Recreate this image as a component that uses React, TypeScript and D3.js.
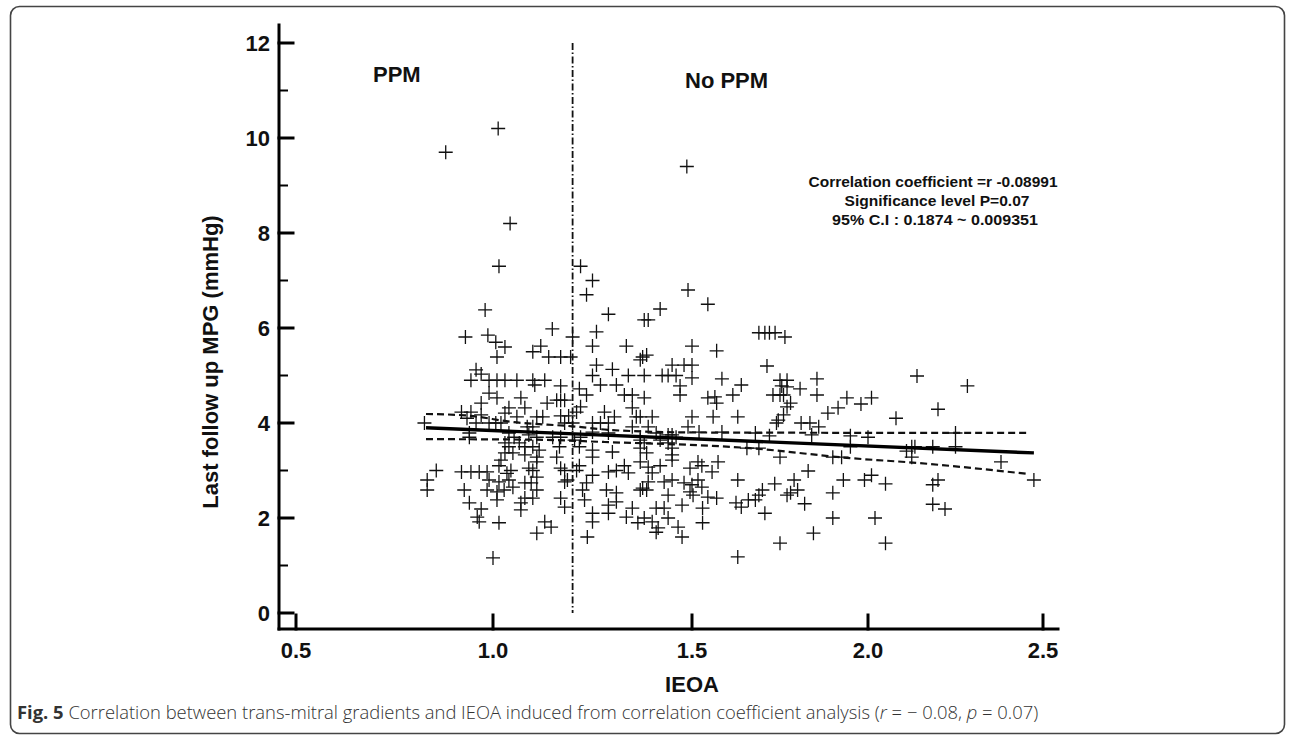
import React from 'react';
import * as d3 from 'd3';

// ---------- data ----------
const xTickValues = [0.5, 1.0, 1.5, 2.0, 2.5];
const xTickLabels = ['0.5', '1.0', '1.5', '2.0', '2.5'];
const yMajorTicks = [0, 2, 4, 6, 8, 10, 12];
const yMinorTicks = [1, 3, 5, 7, 9, 11];
const ppmCutoff = 1.2;

const regressionLine: [number, number][] = [[0.83, 3.9], [2.474, 3.37]];
const ciUpper: [number, number][] = [[0.83, 4.19], [0.93, 4.16], [1.05, 4.02], [1.2, 3.93], [1.3, 3.85], [1.52, 3.8], [2.455, 3.79]];
const ciLower: [number, number][] = [[0.83, 3.66], [1.1, 3.65], [1.28, 3.6], [1.665, 3.47], [1.95, 3.26], [2.14, 3.16], [2.455, 2.93]];

const statsLines = [
  'Correlation coefficient =r -0.08991',
  'Significance level P=0.07',
  '95% C.I :  0.1874 ~  0.009351',
];

// IEOA, MPG pairs
const points: [number, number][] = [
  [0.88, 9.7], [1.013, 10.2], [1.043, 8.2], [1.015, 7.3], [1.22, 7.3], [1.487, 9.4], [1.25, 7.0], [1.235, 6.7], [1.49, 6.8],
  // PPM zone and around the cutoff
  [0.98, 6.38], [1.149, 5.98], [1.2, 5.81], [0.93, 5.81], [0.987, 5.85], [1.007, 5.7], [1.03, 5.6], [1.01, 5.39], [1.10, 5.5], [1.12, 5.62], [1.14, 5.39], [1.17, 5.39], [1.195, 5.39],
  [0.957, 5.12], [0.97, 5.03],
  [0.944, 4.9], [0.99, 4.9], [1.01, 4.9], [1.03, 4.9], [1.06, 4.9], [1.10, 4.9], [1.13, 4.9], [1.105, 4.8], [1.17, 4.78], [1.217, 4.72],
  [0.99, 4.63], [1.01, 4.53], [1.07, 4.53], [0.97, 4.42], [1.04, 4.32], [1.08, 4.32], [1.136, 4.42], [1.16, 4.48], [1.17, 4.48], [1.18, 4.48],
  [0.92, 4.23], [0.944, 4.23], [0.97, 4.17], [1.03, 4.21], [1.06, 4.13], [1.11, 4.13], [1.125, 4.13], [1.17, 4.15], [1.19, 4.15],
  [0.826, 4.0], [0.934, 4.1], [0.957, 4.0], [0.99, 4.0], [1.007, 4.0], [1.02, 4.0], [1.086, 3.92], [1.10, 3.92], [1.18, 4.0], [1.2, 4.0],
  [0.94, 3.79], [0.94, 3.7], [1.04, 3.79], [1.053, 3.7], [1.09, 3.75], [1.11, 3.7], [1.15, 3.7], [1.17, 3.7],
  [1.03, 3.58], [1.04, 3.5], [1.066, 3.58], [1.08, 3.5], [1.1, 3.5], [1.116, 3.43], [1.167, 3.5],
  [1.03, 3.37], [1.02, 3.22], [1.05, 3.37], [1.11, 3.28], [1.11, 3.18], [1.08, 3.33], [1.16, 3.28],
  [1.015, 3.1], [1.045, 3.0], [1.035, 2.94], [1.09, 3.05], [1.10, 3.0], [1.11, 2.86], [1.17, 3.05], [1.18, 3.0],
  [0.856, 3.0], [0.92, 2.97], [0.944, 2.97], [0.965, 2.97], [0.985, 2.97],
  [0.833, 2.8], [0.833, 2.59], [0.99, 2.8], [1.015, 2.76], [1.04, 2.8], [1.05, 2.65], [1.08, 2.74], [1.096, 2.74], [1.11, 2.59], [1.18, 2.76], [1.187, 2.8],
  [0.927, 2.59], [0.985, 2.59], [1.01, 2.55], [1.028, 2.59], [1.01, 2.38], [1.08, 2.42], [1.10, 2.42], [1.17, 2.42], [1.18, 2.23],
  [0.94, 2.32], [0.97, 2.19], [1.07, 2.32], [1.07, 2.17], [0.96, 2.02], [0.965, 1.92], [1.015, 1.9], [1.13, 1.92], [1.146, 1.81], [1.11, 1.68], [1.0, 1.16],
  // No PPM zone, 1.2 - 1.66
  [1.545, 6.5], [1.42, 6.4], [1.38, 6.17], [1.39, 6.17], [1.29, 6.29], [1.26, 5.92], [1.25, 5.62], [1.335, 5.62], [1.5, 5.62], [1.57, 5.52],
  [1.376, 5.39], [1.37, 5.33], [1.386, 5.43], [1.26, 5.22], [1.30, 5.13], [1.25, 5.0],
  [1.34, 5.0], [1.38, 5.0], [1.425, 5.0], [1.44, 5.0], [1.45, 5.22], [1.48, 5.22], [1.5, 5.22], [1.46, 5.0], [1.47, 4.78], [1.5, 4.95], [1.585, 4.93], [1.64, 4.8], [1.616, 4.59],
  [1.27, 4.8], [1.31, 4.8], [1.235, 4.59], [1.33, 4.59], [1.35, 4.59], [1.38, 4.53], [1.47, 4.59], [1.545, 4.53], [1.565, 4.55], [1.57, 4.42],
  [1.22, 4.34], [1.21, 4.23], [1.28, 4.23], [1.305, 4.13], [1.35, 4.32], [1.36, 4.13], [1.37, 4.13], [1.4, 4.13], [1.5, 4.13], [1.56, 4.13], [1.63, 4.13],
  [1.25, 4.0], [1.27, 4.0], [1.29, 4.0], [1.39, 3.92], [1.35, 3.92], [1.49, 3.92], [1.52, 3.81], [1.585, 3.81],
  [1.22, 3.7], [1.205, 3.64], [1.29, 3.79], [1.25, 3.81], [1.37, 3.7], [1.41, 3.79], [1.44, 3.75], [1.45, 3.75], [1.46, 3.7], [1.37, 3.64], [1.38, 3.58], [1.42, 3.64], [1.44, 3.58], [1.45, 3.47], [1.656, 3.47],
  [1.217, 3.5], [1.25, 3.43], [1.3, 3.39], [1.37, 3.47], [1.386, 3.37], [1.45, 3.33], [1.25, 3.28],
  [1.217, 3.1], [1.21, 3.0], [1.33, 3.1], [1.34, 2.95], [1.31, 3.0], [1.29, 2.97], [1.37, 3.18], [1.39, 3.07], [1.42, 3.1], [1.40, 2.95], [1.45, 3.22],
  [1.495, 3.05], [1.517, 3.18], [1.528, 3.1], [1.557, 2.97], [1.574, 3.18],
  [1.25, 2.9], [1.235, 2.74], [1.225, 2.59], [1.23, 2.38], [1.285, 2.59], [1.31, 2.53], [1.37, 2.59], [1.376, 2.63], [1.386, 2.59], [1.39, 2.76],
  [1.43, 2.76], [1.45, 2.8], [1.44, 2.48], [1.48, 2.74], [1.5, 2.7], [1.517, 2.8], [1.528, 2.65], [1.495, 2.55], [1.503, 2.48], [1.545, 2.44], [1.57, 2.42],
  [1.63, 2.8], [1.625, 2.32], [1.64, 2.23], [1.66, 2.38], [1.31, 2.34], [1.29, 2.27], [1.35, 2.21], [1.41, 2.21], [1.43, 2.21], [1.475, 2.27], [1.53, 2.21],
  [1.25, 2.1], [1.25, 1.92], [1.237, 1.6], [1.29, 2.1], [1.335, 2.02], [1.364, 1.9], [1.38, 2.0], [1.4, 1.92], [1.415, 1.79], [1.41, 1.7], [1.44, 2.0], [1.465, 1.81], [1.475, 1.6], [1.53, 1.9], [1.63, 1.18],
  // 1.66 - 2.1
  [1.69, 5.9], [1.707, 5.9], [1.72, 5.9], [1.736, 5.9], [1.764, 5.81], [1.713, 5.2], [1.75, 4.9], [1.77, 4.9], [1.755, 4.78], [1.77, 4.76], [1.855, 4.93], [1.855, 4.59], [1.807, 4.72],
  [1.73, 4.59], [1.75, 4.59], [1.76, 4.59], [1.78, 4.42], [1.77, 4.34], [1.76, 4.17], [1.745, 4.06], [1.74, 4.0], [1.81, 4.0], [1.835, 4.0], [1.86, 3.92],
  [1.886, 4.21], [1.915, 4.32], [1.94, 4.53], [1.98, 4.4], [2.01, 4.53], [2.08, 4.1],
  [1.68, 3.79], [1.72, 3.73], [1.84, 3.75], [1.95, 3.73], [2.0, 3.7], [1.95, 3.5], [1.69, 3.47], [1.75, 3.28], [1.9, 3.28], [1.925, 3.28],
  [1.83, 2.99], [1.93, 2.8], [1.99, 2.8], [2.01, 2.9], [2.05, 2.72], [1.79, 2.8], [1.8, 2.59], [1.78, 2.53], [1.77, 2.48], [1.735, 2.72],
  [1.7, 2.59], [1.69, 2.48], [1.68, 2.38], [1.707, 2.1], [1.82, 2.3], [1.9, 2.53], [1.9, 2.0], [2.02, 2.0], [1.845, 1.68], [1.75, 1.47], [2.05, 1.47],
  // > 2.1
  [2.14, 4.99], [2.284, 4.78], [2.2, 4.29], [2.25, 3.79], [2.25, 3.5], [2.185, 3.5], [2.134, 3.5], [2.125, 3.5], [2.11, 3.41], [2.125, 3.28], [2.38, 3.18], [2.474, 2.8], [2.185, 2.7], [2.2, 2.8], [2.185, 2.29], [2.22, 2.19],
];

// ---------- layout ----------
const W = 1292;
const H = 738;
const axisX = 279;
const axisY = 629;
const axisRight = 1058;
const axisTop = 25;

const x = d3.scaleLinear().domain(xTickValues).range([296, 493, 692, 868, 1043]);
const y = d3.scaleLinear().domain([0, 12]).range([613, 43]);

const sansBold = "'Liberation Sans', Arial, Helvetica, sans-serif";

export default function App() {
  const line = d3.line<[number, number]>().x(d => x(d[0])).y(d => y(d[1]));
  const curve = d3.line<[number, number]>().x(d => x(d[0])).y(d => y(d[1])).curve(d3.curveMonotoneX);
  const plus = 'M-7,0H7M0,-7V7';

  return (
    <svg width={W} height={H} viewBox={`0 0 ${W} ${H}`} style={{ position: 'absolute', left: 0, top: 0, background: '#fff' }}>
      <rect x={0} y={0} width={W} height={H} fill="#fff" />
      {/* frame */}
      <rect x={10.5} y={6.5} width={1274} height={727} rx={9} ry={9} fill="none" stroke="#444" strokeWidth={1.6} />

      {/* markers */}
      <g stroke="#111" strokeWidth={1.3} fill="none">
        {points.map((p, i) => (
          <path key={i} d={plus} transform={`translate(${x(p[0])},${y(p[1])})`} />
        ))}
      </g>

      {/* cutoff line */}
      <line x1={x(ppmCutoff)} x2={x(ppmCutoff)} y1={y(12)} y2={y(0)} stroke="#111" strokeWidth={1.8} strokeDasharray="7,2.5,1.5,2.5" />

      {/* regression & CI */}
      <path d={curve(ciUpper) || ''} fill="none" stroke="#111" strokeWidth={2.2} strokeDasharray="7,4" />
      <path d={curve(ciLower) || ''} fill="none" stroke="#111" strokeWidth={2.2} strokeDasharray="7,4" />
      <path d={line(regressionLine) || ''} fill="none" stroke="#000" strokeWidth={3.4} />

      {/* axes */}
      <g stroke="#000" strokeLinecap="square">
        <line x1={axisX} x2={axisX} y1={axisTop} y2={axisY} strokeWidth={3} />
        <line x1={axisX} x2={axisRight} y1={axisY} y2={axisY} strokeWidth={3} />
        {yMajorTicks.map(t => (
          <line key={'ym' + t} x1={axisX} x2={axisX + 14} y1={y(t)} y2={y(t)} strokeWidth={3} />
        ))}
        {yMinorTicks.map(t => (
          <line key={'yn' + t} x1={axisX} x2={axisX + 8} y1={y(t)} y2={y(t)} strokeWidth={2} />
        ))}
        {xTickValues.map(t => (
          <line key={'xt' + t} x1={x(t)} x2={x(t)} y1={axisY} y2={axisY - 14} strokeWidth={3} />
        ))}
      </g>

      <g fontFamily={sansBold} fontWeight="bold" fontSize={22} fill="#111">
        {yMajorTicks.map(t => (
          <text key={'yl' + t} x={270} y={y(t)} dy="0.36em" textAnchor="end">{t}</text>
        ))}
        {xTickValues.map((t, i) => (
          <text key={'xl' + t} x={x(t)} y={658} textAnchor="middle">{xTickLabels[i]}</text>
        ))}
        <text x={x(1.5)} y={692} textAnchor="middle">IEOA</text>
        <text transform={`translate(218,${362}) rotate(-90)`} textAnchor="middle">Last follow up MPG (mmHg)</text>
        <text x={373} y={82}>PPM</text>
        <text x={685} y={88}>No PPM</text>
      </g>

      <g fontFamily={sansBold} fontWeight="bold" fontSize={15} fill="#111" textAnchor="middle">
        <text x={933} y={187} textLength={249} lengthAdjust="spacingAndGlyphs">{statsLines[0]}</text>
        <text x={937} y={206} textLength={185} lengthAdjust="spacingAndGlyphs">{statsLines[1]}</text>
        <text x={935} y={225} textLength={206} lengthAdjust="spacingAndGlyphs">{statsLines[2]}</text>
      </g>

      {/* caption */}
      <text x={17} y={719} fontFamily="'Open Sans', 'Noto Sans', sans-serif" fontSize={18.4} fill="#333">
        <tspan fontWeight="bold">Fig. 5</tspan>
        <tspan fontWeight={300}> Correlation between trans-mitral gradients and IEOA induced from correlation coefficient analysis (</tspan>
        <tspan fontWeight={300} fontStyle="italic">r</tspan>
        <tspan fontWeight={300}> = − 0.08, </tspan>
        <tspan fontWeight={300} fontStyle="italic">p</tspan>
        <tspan fontWeight={300}> = 0.07)</tspan>
      </text>
    </svg>
  );
}
